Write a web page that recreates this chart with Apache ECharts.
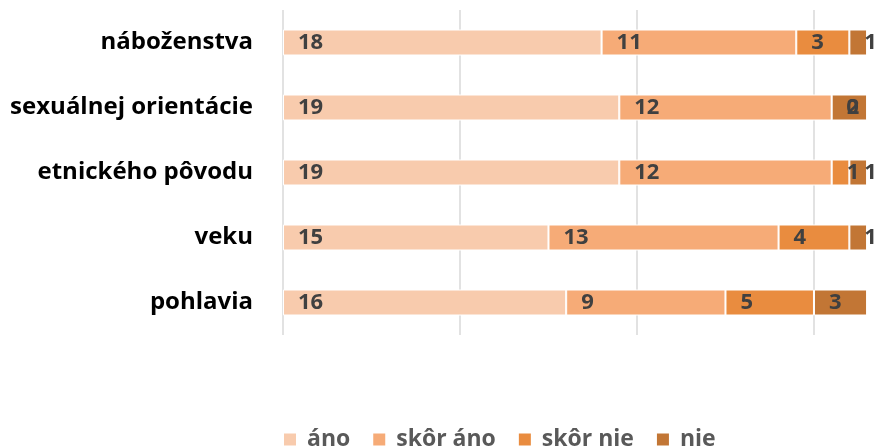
<!DOCTYPE html>
<html><head><meta charset="utf-8">
<script src="https://cdn.jsdelivr.net/npm/echarts@6/dist/echarts.min.js"></script>
<style>html,body{margin:0;padding:0;background:#fff}#c{width:883px;height:448px}</style>
</head><body><div id="c"></div>
<script>
const categories = ["náboženstva", "sexuálnej orientácie", "etnického pôvodu", "veku", "pohlavia"];
const seriesNames = ["áno", "skôr áno", "skôr nie", "nie"];
const ano = [18, 19, 19, 15, 16];
const skorAno = [11, 12, 12, 13, 9];
const skorNie = [3, 0, 1, 4, 5];
const nie = [1, 2, 1, 1, 3];
const colors = ["#F8CBAD", "#F6AB77", "#E98C3F", "#C27635"];
const values = [ano, skorAno, skorNie, nie];
const FONT = "Open Sans";
const chart = echarts.init(document.getElementById('c'));
chart.setOption({
  animation: false,
  color: colors,
  grid: {left: 283, right: 0, top: 10, height: 325, containLabel: false},
  xAxis: {type: 'value', min: 0, max: 33.9, interval: 10,
    axisLabel: {show: false}, axisLine: {show: false}, axisTick: {show: false},
    splitLine: {show: true, showMaxLine: false, lineStyle: {color: '#D9D9D9', width: 1.5}}},
  yAxis: {type: 'category', data: categories, inverse: true,
    axisLine: {show: false}, axisTick: {show: false},
    axisLabel: {margin: 30, fontFamily: FONT, fontWeight: 'bold', fontSize: 24, color: '#000'}},
  legend: {top: 423, left: 277, itemWidth: 14, itemHeight: 14, itemGap: 21,
    icon: 'rect', data: seriesNames,
    textStyle: {fontFamily: FONT, fontWeight: 'bold', fontSize: 23, color: '#595959', padding: [0, 0, 0, 5]}},
  series: seriesNames.map((n, i) => ({
    name: n, type: 'bar', stack: 'total', barWidth: '40%',
    data: values[i],
    itemStyle: {borderColor: '#fff', borderWidth: 1},
    label: {show: true, position: 'insideLeft', distance: 15,
      fontFamily: FONT, fontWeight: 'bold', fontSize: 22, color: '#404040'}
  }))
});
</script></body></html>
